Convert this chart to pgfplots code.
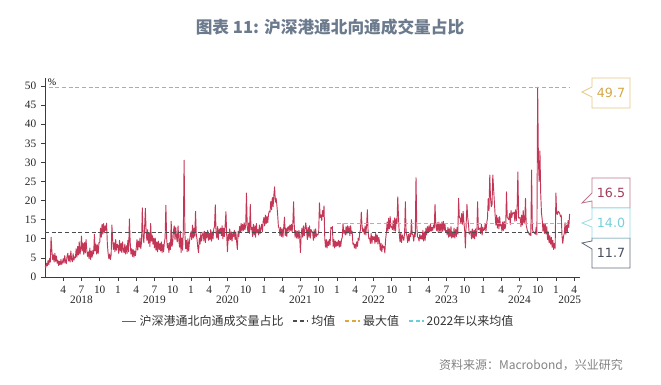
\documentclass[border=0pt]{standalone}
\usepackage{pgfplots}
\pgfplotsset{compat=1.18}
\usepackage{pgfplotstable}
\usepackage{fontspec}
\setmainfont{Liberation Serif}
\newfontfamily\cjk{Noto Sans CJK SC}
\newfontfamily\numf{DejaVu Sans}
\definecolor{sercol}{RGB}{196,54,86}
\definecolor{meancol}{RGB}{75,75,80}
\definecolor{maxcol}{RGB}{222,168,58}
\definecolor{cyancol}{RGB}{105,205,220}
\definecolor{axisgray}{RGB}{60,60,60}
\definecolor{titlecol}{RGB}{107,122,140}
\definecolor{srccol}{RGB}{130,130,130}
\definecolor{c497}{RGB}{230,200,130}
\definecolor{c497t}{RGB}{212,168,72}
\definecolor{c165}{RGB}{190,120,140}
\definecolor{c165t}{RGB}{165,62,92}
\definecolor{c140}{RGB}{150,220,228}
\definecolor{c140t}{RGB}{120,208,218}
\definecolor{c117}{RGB}{100,110,125}
\definecolor{c117t}{RGB}{70,80,95}

% 8 observations per month, Jan 2018 - Mar 2025
\pgfplotstableread[header=false,row sep=\\]{
3.0\\2.4\\3.6\\2.9\\4.3\\3.2\\4.8\\3.9\\
10.4\\7.0\\4.6\\5.8\\3.9\\6.2\\4.1\\5.5\\
3.6\\4.4\\3.0\\4.1\\3.2\\4.6\\3.3\\3.9\\
4.8\\3.6\\5.6\\4.0\\3.5\\5.4\\6.2\\4.2\\
5.6\\3.9\\6.8\\4.6\\4.0\\6.1\\4.4\\5.3\\
5.0\\7.4\\5.2\\8.0\\5.8\\9.2\\6.0\\7.1\\
10.7\\6.8\\8.9\\5.9\\9.0\\6.3\\9.8\\7.0\\
5.4\\6.6\\4.8\\7.6\\4.6\\6.8\\5.2\\7.0\\
6.0\\11.2\\6.8\\8.6\\6.0\\8.4\\6.2\\9.0\\
9.0\\12.8\\10.4\\13.8\\11.2\\14.0\\11.6\\13.4\\
12.2\\14.1\\8.8\\6.2\\4.8\\6.0\\4.6\\5.8\\
13.6\\9.6\\7.2\\9.0\\6.6\\9.8\\7.0\\8.6\\
8.2\\6.2\\9.6\\6.8\\8.8\\6.4\\9.2\\7.0\\
6.4\\8.6\\6.0\\8.2\\6.2\\9.6\\6.6\\15.2\\
9.4\\6.0\\7.4\\5.4\\7.2\\5.2\\6.8\\5.6\\
7.6\\9.8\\7.0\\9.4\\7.8\\10.2\\7.4\\9.2\\
18.1\\10.8\\9.0\\12.8\\18.0\\12.2\\9.6\\12.4\\
8.8\\11.6\\8.0\\14.0\\9.4\\11.0\\8.6\\10.2\\
7.6\\10.2\\7.0\\9.2\\6.6\\9.4\\7.2\\8.8\\
6.8\\9.2\\6.4\\8.6\\6.6\\9.0\\10.2\\18.8\\
10.2\\7.6\\8.8\\6.4\\9.0\\7.2\\14.6\\8.0\\
9.0\\12.0\\13.4\\9.8\\13.0\\10.4\\9.2\\13.4\\
9.8\\7.8\\12.0\\6.4\\10.2\\7.0\\12.8\\30.6\\
11.4\\7.4\\9.6\\6.6\\10.0\\6.8\\9.2\\10.8\\
11.8\\9.8\\13.6\\10.2\\12.8\\10.6\\17.2\\11.2\\
9.8\\7.6\\6.4\\10.2\\8.6\\11.4\\9.4\\11.0\\
11.8\\9.4\\12.0\\9.0\\11.6\\10.2\\12.2\\9.6\\
11.4\\9.8\\12.4\\9.4\\11.8\\10.0\\12.6\\13.2\\
18.9\\11.6\\10.2\\13.2\\9.8\\12.6\\11.4\\12.8\\
10.8\\13.4\\10.0\\12.8\\10.6\\13.6\\17.1\\11.0\\
6.6\\11.2\\9.6\\12.6\\9.8\\11.8\\9.4\\11.4\\
10.6\\12.2\\9.8\\11.8\\9.4\\7.2\\12.0\\10.6\\
13.2\\11.8\\14.0\\12.0\\13.8\\12.2\\14.2\\12.4\\
13.6\\22.0\\13.4\\11.6\\14.2\\11.4\\19.0\\12.4\\
13.0\\10.6\\13.8\\11.0\\13.4\\10.4\\14.0\\11.6\\
12.4\\11.0\\13.6\\11.4\\12.8\\13.8\\11.8\\14.6\\
15.6\\13.4\\16.2\\14.0\\15.8\\14.2\\16.4\\17.2\\
17.0\\19.8\\17.6\\20.8\\18.4\\21.4\\23.6\\19.6\\
20.6\\18.8\\16.4\\13.2\\12.8\\10.8\\13.0\\10.6\\
12.6\\10.4\\13.0\\15.7\\10.8\\12.8\\10.6\\12.8\\
13.2\\11.8\\13.6\\12.2\\13.8\\11.8\\14.0\\19.7\\
12.8\\10.4\\12.2\\10.2\\12.0\\10.0\\12.2\\10.4\\
6.4\\11.2\\12.8\\10.4\\13.4\\10.8\\12.6\\14.2\\
12.4\\9.8\\13.0\\10.4\\13.4\\10.2\\12.4\\11.8\\
11.8\\9.6\\12.4\\10.2\\12.6\\10.6\\11.2\\11.0\\
12.0\\19.4\\15.6\\16.2\\14.8\\17.4\\15.8\\18.6\\
10.0\\7.8\\9.8\\7.6\\9.4\\8.2\\9.8\\8.4\\
13.0\\12.6\\13.2\\8.0\\9.8\\7.6\\9.4\\8.0\\
9.2\\8.2\\9.6\\7.8\\9.4\\8.0\\9.8\\10.4\\
14.0\\11.4\\12.2\\11.0\\13.2\\11.2\\13.4\\11.6\\
13.2\\10.8\\13.4\\11.4\\12.0\\8.6\\8.8\\7.6\\
8.6\\7.4\\9.2\\8.0\\10.2\\9.6\\11.6\\12.4\\
17.0\\13.6\\11.8\\12.6\\11.2\\13.4\\11.0\\13.6\\
17.6\\11.8\\10.0\\10.2\\8.8\\11.4\\8.8\\10.6\\
9.8\\10.6\\8.8\\11.4\\9.2\\11.0\\8.6\\10.4\\
9.2\\7.0\\8.8\\6.6\\8.4\\7.6\\8.0\\6.3\\
9.8\\11.6\\14.4\\12.0\\15.4\\12.6\\15.8\\13.0\\
13.2\\12.4\\14.8\\12.2\\15.5\\12.0\\15.2\\14.0\\
21.0\\15.4\\11.2\\9.2\\11.6\\9.0\\11.0\\10.2\\
9.6\\11.6\\19.7\\11.6\\10.8\\9.0\\11.2\\9.4\\
11.4\\10.6\\15.0\\11.2\\11.0\\9.4\\11.4\\10.6\\
26.0\\13.4\\10.4\\10.4\\9.4\\11.2\\10.0\\10.8\\
9.8\\12.2\\9.4\\11.8\\9.6\\12.8\\11.0\\13.2\\
11.6\\13.4\\11.8\\13.8\\12.0\\13.0\\12.2\\13.6\\
12.8\\19.0\\13.6\\12.2\\14.2\\11.8\\14.4\\12.0\\
13.8\\11.8\\14.4\\12.0\\14.6\\12.2\\14.0\\11.8\\
12.2\\11.0\\13.0\\10.4\\12.6\\10.6\\13.2\\10.2\\
11.8\\10.4\\12.8\\10.2\\12.4\\10.6\\13.0\\11.2\\
20.6\\15.6\\15.4\\14.0\\16.6\\13.8\\17.2\\14.2\\
12.2\\7.6\\14.0\\19.0\\15.6\\13.8\\11.2\\11.6\\
12.0\\10.0\\12.6\\10.2\\12.2\\10.0\\12.6\\10.6\\
11.6\\19.7\\12.4\\12.6\\12.8\\11.4\\13.8\\11.0\\
13.0\\12.2\\12.4\\14.0\\12.0\\14.2\\15.4\\20.5\\
17.4\\26.7\\20.6\\18.4\\19.0\\26.7\\23.2\\19.8\\
16.4\\13.6\\16.2\\12.8\\15.6\\12.6\\15.8\\13.4\\
13.8\\12.0\\14.4\\12.2\\14.6\\12.6\\13.4\\22.3\\
15.6\\15.4\\15.0\\16.6\\13.8\\17.4\\15.6\\16.8\\
16.6\\17.0\\14.6\\17.6\\14.8\\18.0\\27.5\\15.4\\
15.4\\15.6\\13.2\\16.2\\13.6\\17.4\\14.2\\14.6\\
20.6\\13.4\\12.6\\11.6\\11.8\\11.0\\11.4\\10.8\\
28.0\\12.6\\11.8\\11.8\\11.4\\11.2\\13.0\\11.0\\
49.7\\30.2\\25.0\\33.0\\22.0\\16.8\\15.0\\12.0\\
14.0\\11.4\\13.8\\11.2\\13.2\\9.8\\11.8\\9.0\\
10.8\\8.6\\10.4\\7.8\\9.6\\7.2\\8.8\\7.5\\
22.0\\16.6\\16.4\\17.2\\17.0\\16.6\\15.8\\16.2\\
10.8\\8.8\\10.6\\11.4\\14.2\\11.2\\13.6\\11.8\\
14.8\\13.0\\16.5\\
}\ser

\begin{document}
\begin{tikzpicture}
\path[use as bounding box] (-33.75pt,-81pt) rectangle (462pt,207.75pt);
\begin{axis}[
  at={(0pt,0pt)}, anchor=south west,
  scale only axis, width=401.25pt, height=149.25pt,
  xmin=2018, xmax=2025.33, ymin=0, ymax=52.1,
  axis x line*=bottom, axis y line*=left,
  axis line style={draw=axisgray,line width=0.6pt,-},
  tick style={draw=axisgray,line width=0.6pt},
  tick align=outside, major tick length=3pt,
  ytick={0,5,...,50},
  xtick={2018.25,2018.5,2018.75,2019,2019.25,2019.5,2019.75,2020,2020.25,2020.5,2020.75,2021,2021.25,2021.5,2021.75,2022,2022.25,2022.5,2022.75,2023,2023.25,2023.5,2023.75,2024,2024.25,2024.5,2024.75,2025,2025.25},
  xticklabels={4,7,10,1,4,7,10,1,4,7,10,1,4,7,10,1,4,7,10,1,4,7,10,1,4,7,10,1,4},
  extra x ticks={2018.5,2019.5,2020.5,2021.5,2022.5,2023.5,2024.5,2025.19},
  extra x tick labels={2018,2019,2020,2021,2022,2023,2024,2025},
  extra x tick style={major tick length=0pt, tick label style={yshift=-11pt}},
  tick label style={font=\fontsize{8.5}{10}\selectfont, text=black!85},
  /pgf/number format/assume math mode=true,
  legend columns=4,
  legend style={at={(0.1346,-0.2211)}, anchor=west, draw=none, fill=none,
    font=\cjk\fontsize{9}{10}\selectfont, text=black!80,
    /tikz/every even column/.append style={column sep=5pt}},
  legend image code/.code={\draw[#1] (0pt,0pt) -- (11pt,0pt);},
]
\addplot[draw=sercol, line width=0.7pt, line join=round] table[x expr=2018+\coordindex/96, y index=0] {\ser};
\addlegendentry{沪深港通北向通成交量占比}
\addplot[draw=meancol, line width=0.8pt, dash pattern=on 3pt off 2pt] coordinates {(2018,11.7) (2025.19,11.7)};
\addlegendentry{均值}
\addplot[draw=maxcol, line width=0.8pt, dash pattern=on 3pt off 2pt] coordinates {(2018.05,49.7) (2025.19,49.7)};
\addlegendentry{最大值}
\addplot[draw=cyancol, line width=0.8pt, dash pattern=on 3pt off 2pt] coordinates {(2022,14.0) (2025.19,14.0)};
\addlegendentry{2022年以来均值}
\end{axis}
% percent sign
\node[anchor=west, inner sep=0pt, font=\fontsize{7.5}{9}\selectfont] at (2pt,146pt) {\%};
% title
\node[font=\cjk\bfseries\fontsize{12.5}{14}\selectfont, text=titlecol] at (213.75pt,187.5pt) {图表 11: 沪深港通北向通成交量占比};
% source
\node[anchor=west, font=\cjk\fontsize{9}{10}\selectfont, text=srccol] at (292pt,-66pt) {资料来源：Macrobond，兴业研究};
% callouts
\begin{scope}[line width=0.6pt, font=\numf\fontsize{9.5}{11}\selectfont]
\filldraw[fill=white, draw=c497] (410.25pt,149.25pt) -- (438.75pt,149.25pt) -- (438.75pt,126.75pt) -- (410.25pt,126.75pt) -- (410.25pt,135pt) -- (402.75pt,138.75pt) -- (410.25pt,142.5pt) -- cycle;
\node[text=c497t] at (424.5pt,138pt) {49.7};
\filldraw[fill=white, draw=c165] (410.25pt,74.25pt) -- (438.75pt,74.25pt) -- (438.75pt,51.75pt) -- (410.25pt,51.75pt) -- (410.25pt,57pt) -- (402.75pt,55.5pt) -- (410.25pt,63pt) -- cycle;
\node[text=c165t] at (424.5pt,63pt) {16.5};
\filldraw[fill=white, draw=c117] (410.25pt,29.25pt) -- (438.75pt,29.25pt) -- (438.75pt,6.75pt) -- (410.25pt,6.75pt) -- (410.25pt,21pt) -- (402.75pt,25.5pt) -- (410.25pt,27pt) -- cycle;
\node[text=c117t] at (424.5pt,18pt) {11.7};
\filldraw[fill=white, draw=c140] (410.25pt,51.75pt) -- (438.75pt,51.75pt) -- (438.75pt,29.25pt) -- (410.25pt,29.25pt) -- (410.25pt,37.5pt) -- (402.75pt,40.5pt) -- (410.25pt,43.5pt) -- cycle;
\node[text=c140t] at (424.5pt,40.5pt) {14.0};
\end{scope}
\end{tikzpicture}
\end{document}
